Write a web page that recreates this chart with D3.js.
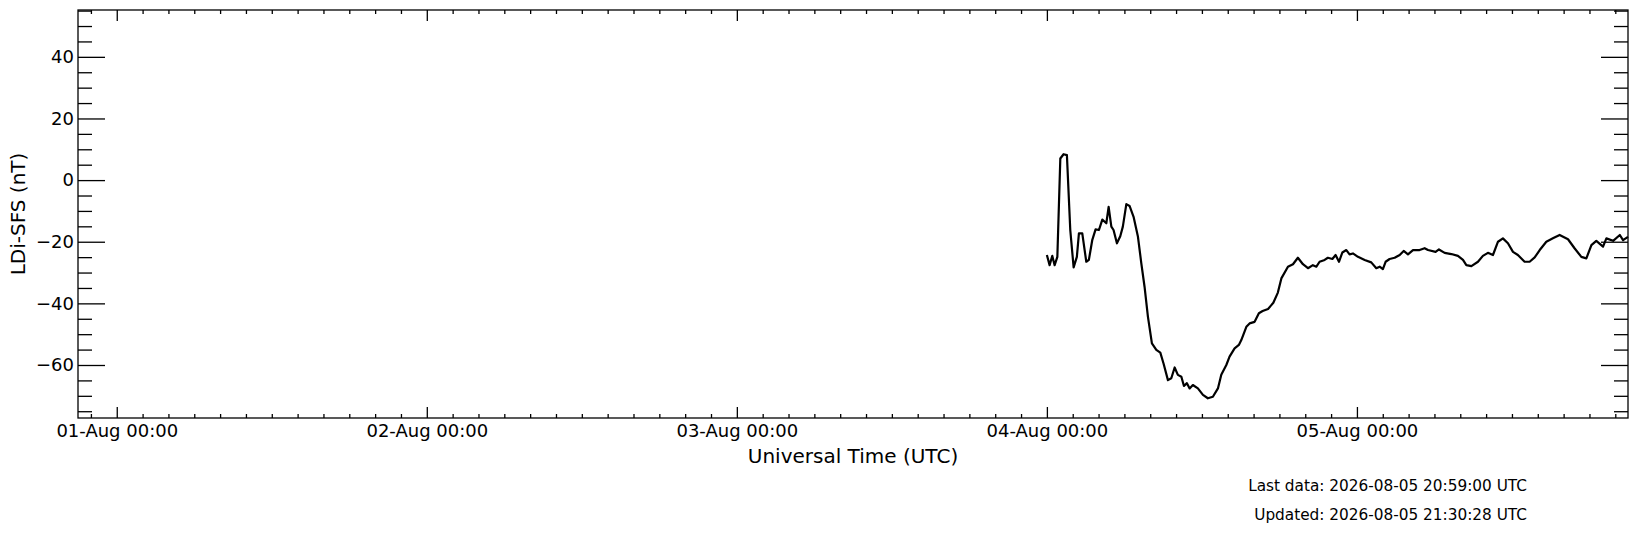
<!DOCTYPE html>
<html>
<head>
<meta charset="utf-8">
<script src="https://cdn.jsdelivr.net/npm/d3@7"></script>
<style>
  body { margin: 0; background: #fff; }
  svg { display: block; font-family: "DejaVu Sans", sans-serif; }
</style>
</head>
<body>
<div id="chart"></div>
<script>
// hours after 2026-08-04 00:00 UTC
const hoursAfterStart = [
  0.00, 0.21, 0.42, 0.60, 0.81, 1.04, 1.29, 1.55, 1.81, 2.07, 2.32, 2.48, 2.74, 3.05, 3.25,
  3.51, 3.77, 4.03, 4.29, 4.60, 4.78, 4.99, 5.16, 5.42, 5.68, 5.88, 6.15, 6.40, 6.71, 7.05,
  7.31, 7.56, 7.82, 8.13, 8.47, 8.78, 9.03, 9.37, 9.63, 9.89, 10.14, 10.41, 10.61, 10.84, 11.05,
  11.30, 11.69, 12.08, 12.46, 12.85, 13.24, 13.50, 13.89, 14.14, 14.53, 14.86, 15.05, 15.44, 15.69, 16.08,
  16.41, 16.70, 17.12, 17.53, 17.88,
  18.15, 18.66, 19.05, 19.43, 19.82, 20.21, 20.59, 20.86, 21.11, 21.50, 21.75, 22.10, 22.35, 22.61, 22.87,
  23.18, 23.43, 23.69, 24.08, 24.60, 25.11, 25.50, 25.76, 26.01, 26.22, 26.53, 26.92, 27.31, 27.62, 27.95,
  28.34, 28.85, 29.24, 29.50,
  30.09, 30.35, 30.79, 31.31, 31.82, 32.21, 32.47, 32.86, 33.37, 33.75, 34.14, 34.53, 34.92, 35.30, 35.69,
  36.08, 36.46, 36.98, 37.37, 37.76, 38.15, 38.66, 39.17, 39.69, 40.34, 40.86, 41.37, 41.76, 42.15, 42.53,
  43.05, 43.31, 43.83, 44.35, 44.60, 44.98
];
// LDi-SFS in nT
const ldiSfs = [
  -24.3, -27.6, -24.6, -27.6, -24.9, 7.0, 8.4, 8.1, -16.2, -28.3, -24.9, -17.3, -17.3, -26.5, -25.9,
  -19.5, -16.0, -16.2, -12.8, -14.0, -8.7, -15.1, -16.2, -20.5, -18.2, -15.1, -7.8, -8.4, -11.9, -18.4,
  -27.0, -34.6, -44.3, -53.0, -55.1, -56.0, -59.5, -64.9, -64.3, -60.8, -63.2, -63.8, -66.8, -65.9, -67.6,
  -66.5, -67.6, -69.7, -70.8, -70.3, -67.6, -63.2, -60.0, -57.3, -54.6, -53.5, -51.9, -47.6, -46.5, -46.0,
  -43.2, -42.5, -41.8, -39.8, -36.5,
  -31.9, -28.1, -27.3, -25.2, -27.3, -28.6, -27.6, -28.1, -26.5, -25.9, -25.2, -25.6, -24.3, -26.5, -23.5,
  -22.7, -24.1, -23.8, -24.9, -25.9, -26.7, -28.6, -28.1, -28.9, -26.5, -25.6, -25.2, -24.3, -23.0, -24.1,
  -22.7, -22.7, -22.1, -22.7,
  -23.3, -22.5, -23.6, -24.0, -24.6, -25.9, -27.6, -27.9, -26.5, -24.6, -23.6, -24.3, -20.0, -18.9, -20.5,
  -23.3, -24.3, -26.5, -26.5, -25.1, -22.7, -20.0, -18.9, -17.8, -19.2, -22.2, -24.9, -25.4, -21.1, -19.7,
  -21.6, -18.9, -19.7, -17.8, -19.5, -18.4
];
const yMajorTicks = [-60, -40, -20, 0, 20, 40];
const dayTicks = ["2026-08-01", "2026-08-02", "2026-08-03", "2026-08-04", "2026-08-05"];
const footerLines = [
  "Last data: 2026-08-05 20:59:00 UTC",
  "Updated: 2026-08-05 21:30:28 UTC"
];

const W = 1637, H = 533;
const margin = { top: 10, right: 9, bottom: 115, left: 78 };
const width = W - margin.left - margin.right,
  height = H - margin.top - margin.bottom;

const start = Date.UTC(2026, 7, 4, 0, 0);
const data = hoursAfterStart.map((h, i) => ({
  t: new Date(start + h * 3600e3),
  v: ldiSfs[i]
}));

const svg = d3.select("#chart").append("svg")
  .attr("width", W).attr("height", H);
const g = svg.append("g")
  .attr("transform", "translate(" + margin.left + "," + margin.top + ")");

// scales
const xScale = d3.scaleUtc()
  .domain([new Date(Date.UTC(2026, 6, 31, 21, 0)), new Date(Date.UTC(2026, 7, 5, 20, 59))])
  .range([0, width]);
const yScale = d3.scaleLinear().domain([-77.2, 55.2]).range([height, 0]);

const majorX = dayTicks.map((d) => new Date(d + "T00:00:00Z"));
const minorX = d3.utcHour.every(2).range(xScale.domain()[0], xScale.domain()[1])
  .filter((d) => d.getUTCHours() !== 0);
const minorY = d3.range(-75, 56, 5).filter((v) => v % 20 !== 0);
const fmt = d3.utcFormat("%d-%b %H:%M");

function styleAxis(sel) {
  sel.select(".domain").remove();
  sel.selectAll("line").attr("stroke", "#000").attr("stroke-width", 1.3);
  sel.selectAll("text").attr("fill", "#000").attr("font-size", "18px")
    .attr("font-family", "DejaVu Sans");
}

// bottom axis, ticks pointing in
g.append("g").attr("transform", "translate(0," + height + ")")
  .call(d3.axisBottom(xScale).tickValues(majorX).tickFormat(fmt)
    .tickSizeInner(-11).tickSizeOuter(0).tickPadding(6))
  .call(styleAxis);
g.append("g").attr("transform", "translate(0," + height + ")")
  .call(d3.axisBottom(xScale).tickValues(minorX).tickFormat("")
    .tickSizeInner(-4).tickSizeOuter(0))
  .call(styleAxis);
// top
g.append("g")
  .call(d3.axisTop(xScale).tickValues(majorX).tickFormat("")
    .tickSizeInner(-11).tickSizeOuter(0))
  .call(styleAxis);
g.append("g")
  .call(d3.axisTop(xScale).tickValues(minorX).tickFormat("")
    .tickSizeInner(-4).tickSizeOuter(0))
  .call(styleAxis);

// left
g.append("g")
  .call(d3.axisLeft(yScale).tickValues(yMajorTicks).tickFormat(d3.format("d"))
    .tickSizeInner(-27).tickSizeOuter(0).tickPadding(4))
  .call(styleAxis);
g.append("g")
  .call(d3.axisLeft(yScale).tickValues(minorY).tickFormat("")
    .tickSizeInner(-14).tickSizeOuter(0))
  .call(styleAxis);
// right
g.append("g").attr("transform", "translate(" + width + ",0)")
  .call(d3.axisRight(yScale).tickValues(yMajorTicks).tickFormat("")
    .tickSizeInner(-27).tickSizeOuter(0))
  .call(styleAxis);
g.append("g").attr("transform", "translate(" + width + ",0)")
  .call(d3.axisRight(yScale).tickValues(minorY).tickFormat("")
    .tickSizeInner(-14).tickSizeOuter(0))
  .call(styleAxis);

// frame
g.append("rect")
  .attr("width", width).attr("height", height)
  .attr("fill", "none").attr("stroke", "#000").attr("stroke-width", 1.3);

// data line
const line = d3.line().x((d) => xScale(d.t)).y((d) => yScale(d.v));
g.append("path")
  .datum(data)
  .attr("d", line)
  .attr("fill", "none")
  .attr("stroke", "#000")
  .attr("stroke-width", 2.2)
  .attr("stroke-linejoin", "round");

// axis labels
g.append("text")
  .attr("x", width / 2).attr("y", height + 45)
  .attr("text-anchor", "middle")
  .attr("font-size", "20px")
  .text("Universal Time (UTC)");

svg.append("text")
  .attr("transform", "translate(25," + (margin.top + height / 2) + ") rotate(-90)")
  .attr("text-anchor", "middle")
  .attr("font-size", "20px")
  .text("LDi-SFS (nT)");

// footer
svg.selectAll(".footer")
  .data(footerLines)
  .join("text")
  .attr("class", "footer")
  .attr("x", 1527)
  .attr("y", (d, i) => 491 + i * 29)
  .attr("text-anchor", "end")
  .attr("font-size", "15.3px")
  .text((d) => d);
</script>
</body>
</html>
